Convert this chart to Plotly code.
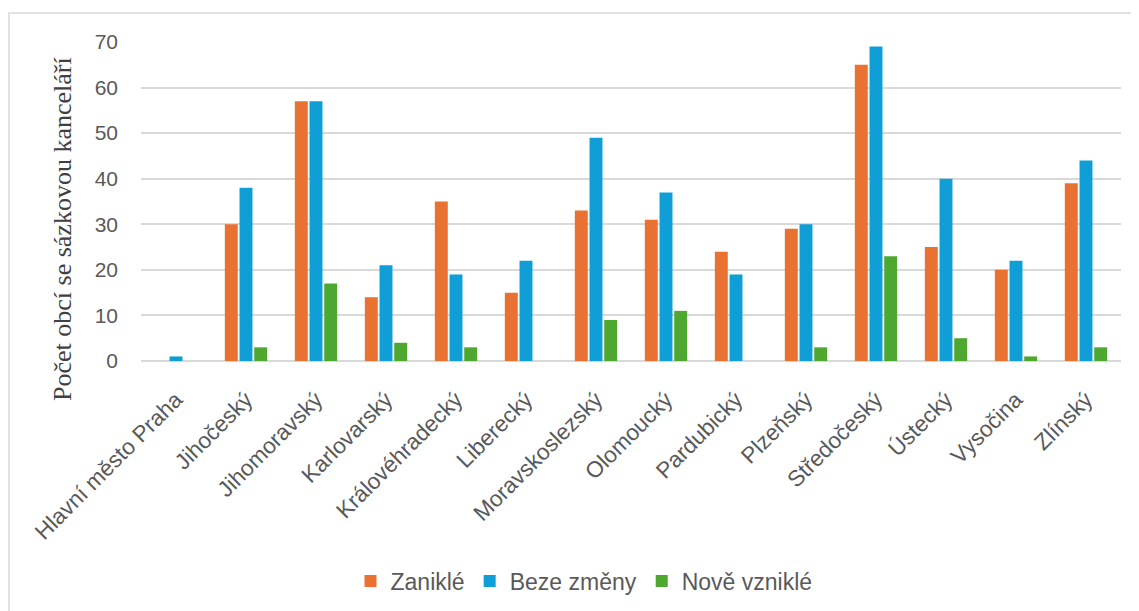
import plotly.graph_objects as go

categories = ["Hlavní město Praha", "Jihočeský", "Jihomoravský", "Karlovarský",
              "Královéhradecký", "Liberecký", "Moravskoslezský", "Olomoucký",
              "Pardubický", "Plzeňský", "Středočeský", "Ústecký", "Vysočina", "Zlínský"]
zanikle = [0, 30, 57, 14, 35, 15, 33, 31, 24, 29, 65, 25, 20, 39]
beze_zmeny = [1, 38, 57, 21, 19, 22, 49, 37, 19, 30, 69, 40, 22, 44]
nove_vznikle = [0, 3, 17, 4, 3, 0, 9, 11, 0, 3, 23, 5, 1, 3]
y_title = "Počet obcí se sázkovou kanceláří"

series = [("Zaniklé", zanikle, "#E97132"),
          ("Beze změny", beze_zmeny, "#0F9ED5"),
          ("Nově vzniklé", nove_vznikle, "#4EA72E")]

fig = go.Figure()
for name, vals, col in series:
    fig.add_trace(go.Bar(x=categories, y=vals, name=name,
                         marker=dict(color=col, line=dict(width=0))))

# page has an 8px body margin, so figure coords = screen coords - 8
OFF = 8
W, H = 1139 - OFF, 611 - OFF
L, T = 141 - OFF, 42 - OFF
R = W - (1121 - OFF)
B = H - (361 - OFF)
pw, ph = W - L - R, H - T - B

def px_to_paper_x(sx):
    return (sx - OFF - L) / pw

def px_to_paper_y(sy):
    return 1 - (sy - OFF - T) / ph

fig.update_layout(
    width=W, height=H,
    margin=dict(l=L, r=R, t=T, b=B, autoexpand=False),
    paper_bgcolor="white", plot_bgcolor="white",
    barmode="group", bargap=0.37, bargroupgap=0.12,
    font=dict(family="Liberation Sans, Arial", color="#595959"),
    legend=dict(orientation="h", x=px_to_paper_x(584), xanchor="center",
                y=px_to_paper_y(581), yanchor="middle",
                font=dict(size=23, color="#595959"),
                itemsizing="constant", itemwidth=30),
    xaxis=dict(tickangle=-45, tickfont=dict(size=22.5, color="#595959"),
               showgrid=False, showline=False, ticks="", automargin=False,
               ticklabelstandoff=20),
    yaxis=dict(range=[0, 70], dtick=10, showgrid=True, gridcolor="#D9D9D9", gridwidth=1.5,
               zeroline=True, zerolinecolor="#D9D9D9", zerolinewidth=1.5, automargin=False,
               tickfont=dict(size=21, color="#595959"), ticks="", ticklabelstandoff=22),
    annotations=[dict(text=y_title, xref="paper", yref="paper",
                      x=px_to_paper_x(63), y=px_to_paper_y(229),
                      xanchor="center", yanchor="middle", textangle=-90, showarrow=False,
                      font=dict(family="Liberation Serif, Times New Roman", size=26,
                                color="#404040"))],
    shapes=[dict(type="rect", xref="paper", yref="paper",
                 x0=px_to_paper_x(9), x1=px_to_paper_x(1150),
                 y0=px_to_paper_y(640), y1=px_to_paper_y(13),
                 line=dict(color="#D9D9D9", width=1.5), fillcolor="rgba(0,0,0,0)",
                 layer="below")],
)

fig.write_html("out.html")
